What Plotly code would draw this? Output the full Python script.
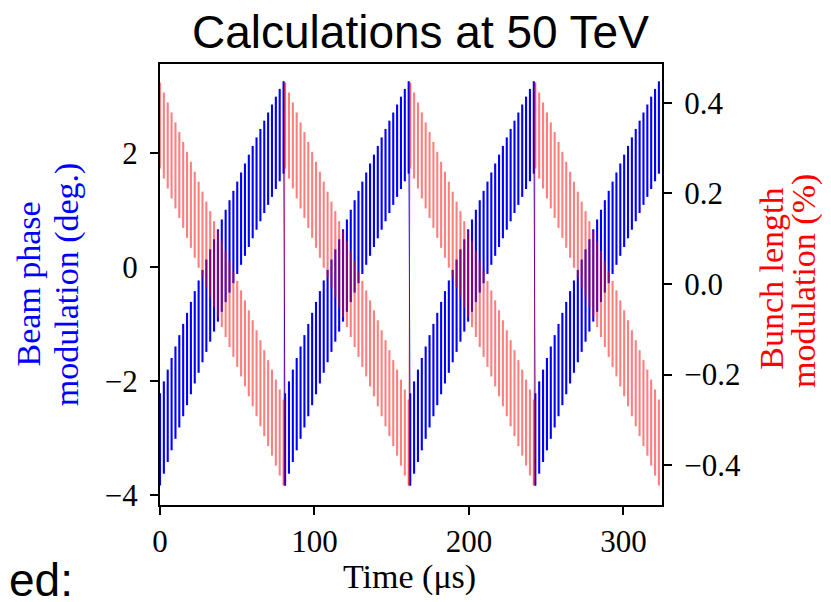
import plotly.graph_objects as go

# ---- data ----
ramp_start = [-0.5, 80.5, 161.5, 242.5]   # µs, start of each ramp
stroke_offset = [0.5, 3.0, 5.5, 8.0, 10.5, 13.0, 15.5, 18.0, 20.5, 23.0, 25.5,
                 28.0, 30.5, 33.0, 35.5, 38.0, 40.5, 43.0, 45.5, 48.0, 50.5,
                 53.0, 55.5, 58.0, 60.5, 63.0, 65.5, 68.0, 70.5, 73.0, 75.5,
                 78.0, 80.5]             # µs within a ramp

blue_bottom = [-3.840, -3.631, -3.425, -3.221, -3.019, -2.820, -2.623, -2.429,
               -2.237, -2.048, -1.861, -1.676, -1.494, -1.315, -1.138, -0.963,
               -0.791, -0.621, -0.454, -0.289, -0.127, 0.033, 0.191, 0.346,
               0.499, 0.649, 0.797, 0.942, 1.085, 1.225, 1.363, 1.499, 1.632]
blue_top = [-2.220, -2.011, -1.805, -1.601, -1.399, -1.200, -1.003, -0.809,
            -0.617, -0.428, -0.241, -0.056, 0.126, 0.305, 0.482, 0.657,
            0.829, 0.999, 1.166, 1.331, 1.493, 1.653, 1.811, 1.966,
            2.119, 2.269, 2.417, 2.562, 2.705, 2.845, 2.983, 3.119, 3.252]

red_top = [0.445, 0.423, 0.401, 0.379, 0.357, 0.336, 0.314, 0.292, 0.270,
           0.248, 0.226, 0.204, 0.182, 0.161, 0.139, 0.117, 0.095, 0.073,
           0.051, 0.029, 0.007, -0.014, -0.036, -0.058, -0.080, -0.102,
           -0.124, -0.146, -0.168, -0.189, -0.211, -0.233, -0.255]
red_bottom = [0.255, 0.233, 0.211, 0.189, 0.167, 0.146, 0.124, 0.102, 0.080,
              0.058, 0.036, 0.014, -0.008, -0.029, -0.051, -0.073, -0.095,
              -0.117, -0.139, -0.161, -0.183, -0.204, -0.226, -0.248, -0.270,
              -0.292, -0.314, -0.336, -0.358, -0.379, -0.401, -0.423, -0.445]

x_ticks = [0, 100, 200, 300]
y1_ticks = [-4, -2, 0, 2]
y1_text = ["\u22124", "\u22122", "0", "2"]
y2_ticks = [-0.4, -0.2, 0.0, 0.2, 0.4]
y2_text = ["\u22120.4", "\u22120.2", "0.0", "0.2", "0.4"]


def strokes(lo, hi):
    xs, ys = [], []
    for s in ramp_start:
        for off, a, b in zip(stroke_offset, lo, hi):
            xs += [s + off, s + off, None]
            ys += [a, b, None]
    return xs, ys


def resets(end_val, start_val):
    xs, ys = [], []
    for s0, s1 in zip(ramp_start[:-1], ramp_start[1:]):
        xs += [s0 + stroke_offset[-1], s1 + stroke_offset[0], None]
        ys += [end_val, start_val, None]
    return xs, ys


fig = go.Figure()
bx, by = strokes(blue_bottom, blue_top)
fig.add_trace(go.Scatter(x=bx, y=by, mode="lines", line=dict(color="#0000ff", width=2.1),
                         hoverinfo="skip", showlegend=False))
rbx, rby = resets(blue_top[-1], blue_bottom[0])
fig.add_trace(go.Scatter(x=rbx, y=rby, mode="lines", line=dict(color="#0000ff", width=1.0),
                         hoverinfo="skip", showlegend=False))
rx, ry = strokes(red_bottom, red_top)
fig.add_trace(go.Scatter(x=rx, y=ry, mode="lines", yaxis="y2",
                         line=dict(color="rgba(255,0,0,0.5)", width=2.1),
                         hoverinfo="skip", showlegend=False))
rrx, rry = resets(red_bottom[-1], red_top[0])
fig.add_trace(go.Scatter(x=rrx, y=rry, mode="lines", yaxis="y2",
                         line=dict(color="rgba(255,0,0,0.5)", width=1.0),
                         hoverinfo="skip", showlegend=False))

serif = "Liberation Serif"
tickfont = dict(family=serif, size=31, color="black")
axis_common = dict(showline=True, linecolor="black", linewidth=2, ticks="outside",
                   ticklen=8, tickwidth=1.5, tickcolor="black", showgrid=False,
                   zeroline=False, tickfont=tickfont)


def vlabel(text, x, y, color):
    return dict(text=text, x=x, y=y, xref="paper", yref="paper", xanchor="center",
                yanchor="middle", textangle=-90, showarrow=False,
                font=dict(family=serif, size=34, color=color))


# the page body has an 8 px margin, so the margins are shifted by 8 px
fig.update_layout(
    width=831, height=602,
    margin=dict(l=152, r=177, t=56, b=105),
    paper_bgcolor="white", plot_bgcolor="white",
    xaxis=dict(range=[0, 325], tickvals=x_ticks, mirror=True, ticklabelstandoff=0,
               **axis_common),
    yaxis=dict(range=[-4.18, 3.556], tickvals=y1_ticks, ticktext=y1_text,
               ticklabelstandoff=6, **axis_common),
    yaxis2=dict(range=[-0.488, 0.486], tickvals=y2_ticks, ticktext=y2_text,
                overlaying="y", side="right", ticklabelstandoff=6, **axis_common),
    annotations=[
        dict(text="Calculations at 50 TeV", x=0.518, y=1.072, xref="paper", yref="paper",
             xanchor="center", yanchor="middle", showarrow=False,
             font=dict(family="Liberation Sans", size=46, color="black")),
        vlabel("Beam phase", -0.262, 0.501, "#0000ff"),
        vlabel("modulation (deg.)", -0.185, 0.501, "#0000ff"),
        vlabel("Bunch length", 1.219, 0.513, "#ff0000"),
        vlabel("modulation (%)", 1.283, 0.508, "#ff0000"),
        dict(text="Time (\u03bcs)", x=0.498, y=-0.163, xref="paper", yref="paper",
             xanchor="center", yanchor="middle", showarrow=False,
             font=dict(family=serif, size=34, color="black")),
        dict(text="ed:", x=-0.305, y=-0.17, xref="paper", yref="paper",
             xanchor="left", yanchor="middle", showarrow=False,
             font=dict(family="Liberation Sans", size=46, color="black")),
    ],
)

fig.write_html("out.html")
